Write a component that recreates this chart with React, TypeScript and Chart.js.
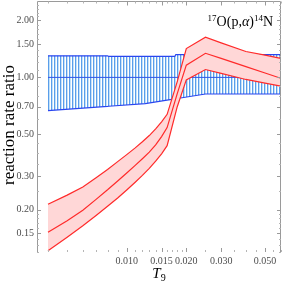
import React, { useEffect, useRef } from "react";
import { Chart, registerables } from "chart.js";

Chart.register(...registerables);

// ---- data ----
const redT9 = [0.004, 0.005, 0.006, 0.007, 0.008, 0.009, 0.010, 0.011, 0.012, 0.013, 0.014, 0.015, 0.016, 0.018, 0.020, 0.025, 0.030, 0.040, 0.050, 0.060];
const redUpper = [0.214, 0.239, 0.264, 0.295, 0.326, 0.359, 0.391, 0.423, 0.457, 0.493, 0.535, 0.583, 0.638, 0.95, 1.42, 1.63, 1.52, 1.37, 1.31, 1.26];
const redMedian = [0.152, 0.175, 0.199, 0.227, 0.255, 0.284, 0.313, 0.342, 0.372, 0.403, 0.440, 0.487, 0.543, 0.82, 1.16, 1.34, 1.26, 1.14, 1.055, 0.99];
const redLower = [0.1216, 0.1434, 0.1647, 0.1865, 0.2086, 0.2308, 0.2544, 0.2788, 0.304, 0.331, 0.361, 0.395, 0.436, 0.70, 0.97, 1.10, 1.05, 0.975, 0.932, 0.90];

const blueT9 = [0.004, 0.008, 0.0081, 0.0124, 0.0175, 0.0177, 0.025, 0.060];
const blueUpper = [1.30, 1.30, 1.29, 1.29, 1.29, 1.32, 1.32, 1.32];
const blueLower = [0.667, 0.703, 0.704, 0.727, 0.770, 0.771, 0.817, 0.817];
const blueCenterT9 = [0.004, 0.060];
const blueCenter = [1.0, 1.0];

const xTickValues = [0.01, 0.015, 0.02, 0.03, 0.05];
const yTickValues = [0.15, 0.2, 0.3, 0.5, 0.7, 1.0, 1.5, 2.0];
const xMinorValues = [0.004, 0.005, 0.006, 0.007, 0.008, 0.009, 0.011, 0.012, 0.013, 0.014, 0.016, 0.017, 0.018, 0.019, 0.025, 0.035, 0.04, 0.045, 0.055, 0.06];
const yMinorValues = [0.12, 0.13, 0.14, 0.16, 0.17, 0.18, 0.19, 0.25, 0.35, 0.4, 0.45, 0.6, 0.8, 0.9, 1.1, 1.2, 1.3, 1.4, 1.6, 1.7, 1.8, 1.9, 2.1, 2.2, 2.3, 2.4];

const yTitle = "reaction rate ratio";
const SERIF = '"Liberation Serif", "Times New Roman", "DejaVu Serif", serif';

const pts = (xs: number[], ys: number[]) => xs.map((x, i) => ({ x, y: ys[i] }));

const decorPlugin = {
  id: "decor",
  afterDraw(chart: any) {
    const { ctx, chartArea, scales } = chart;
    const { left, right, top, bottom } = chartArea;
    const x = scales.x;
    const y = scales.y;
    ctx.save();
    ctx.strokeStyle = "#9a9a9a";
    ctx.lineWidth = 1;
    ctx.beginPath();
    ctx.moveTo(left + 0.5, bottom);
    ctx.lineTo(left + 0.5, top - 0.5);
    ctx.lineTo(right - 0.5, top - 0.5);
    ctx.lineTo(right - 0.5, bottom);
    ctx.stroke();
    const tick = (v: number, len: number, axis: "x" | "y") => {
      if (axis === "x") {
        const px = Math.round(x.getPixelForValue(v)) + 0.5;
        ctx.moveTo(px, bottom);
        ctx.lineTo(px, bottom - len);
        ctx.moveTo(px, top - 0.5);
        ctx.lineTo(px, top - 0.5 + len);
      } else {
        const py = Math.round(y.getPixelForValue(v)) + 0.5;
        ctx.moveTo(left, py);
        ctx.lineTo(left + len, py);
        ctx.moveTo(right, py);
        ctx.lineTo(right - len, py);
      }
    };
    ctx.beginPath();
    xTickValues.forEach((v) => tick(v, 4, "x"));
    yTickValues.forEach((v) => tick(v, 4, "y"));
    ctx.stroke();
    ctx.strokeStyle = "#b5b5b5";
    ctx.beginPath();
    xMinorValues.forEach((v) => tick(v, 2, "x"));
    yMinorValues.forEach((v) => tick(v, 2, "y"));
    ctx.stroke();

    ctx.fillStyle = "#000";
    ctx.textBaseline = "alphabetic";
    const big = `14px ${SERIF}`;
    const small = `9px ${SERIF}`;
    const ital = `italic 14px ${SERIF}`;
    const parts: [string, string, number][] = [
      ["17", small, -5],
      ["O(p,", big, 0],
      ["\u03B1", ital, 0],
      [")", big, 0],
      ["14", small, -5],
      ["N", big, 0],
    ];
    let total = 0;
    parts.forEach(([t, f]) => {
      ctx.font = f;
      total += ctx.measureText(t).width;
    });
    let cx = 273 - total;
    const base = 26;
    parts.forEach(([t, f, dy]) => {
      ctx.font = f;
      ctx.fillText(t, cx, base + dy);
      cx += ctx.measureText(t).width;
    });

    const midX = (left + right) / 2;
    ctx.font = `italic 15px ${SERIF}`;
    const wT = ctx.measureText("T").width;
    ctx.font = `10px ${SERIF}`;
    const w9 = ctx.measureText("9").width;
    const sx = midX - (wT + w9) / 2;
    ctx.font = `italic 15px ${SERIF}`;
    ctx.fillText("T", sx, 278);
    ctx.font = `10px ${SERIF}`;
    ctx.fillText("9", sx + wT, 281);

    ctx.save();
    ctx.translate(14, (top + bottom) / 2 - 2);
    ctx.rotate(-Math.PI / 2);
    ctx.font = `17px ${SERIF}`;
    ctx.textAlign = "center";
    ctx.fillText(yTitle, 0, 0);
    ctx.restore();

    ctx.restore();
  },
};

export default function App() {
  const ref = useRef<HTMLCanvasElement | null>(null);

  useEffect(() => {
    const canvas = ref.current;
    if (!canvas) return;
    const ctx = canvas.getContext("2d")!;

    const pc = document.createElement("canvas");
    pc.width = 3;
    pc.height = 1;
    const p = pc.getContext("2d")!;
    p.fillStyle = "#ffffff";
    p.fillRect(0, 0, 3, 1);
    p.fillStyle = "#5a9eea";
    p.fillRect(0, 0, 1, 1);
    p.fillStyle = "#c3e1f8";
    p.fillRect(1, 0, 1, 1);
    const hatch = ctx.createPattern(pc, "repeat")!;

    const tickFont = { family: SERIF, size: 10 };

    const chart = new Chart(ctx, {
      type: "line",
      data: {
        datasets: [
          { label: "upper", data: pts(redT9, redUpper), borderColor: "#ff2a2a", borderWidth: 1.2, pointRadius: 0, fill: false, order: 0 },
          { label: "median", data: pts(redT9, redMedian), borderColor: "#ff2a2a", borderWidth: 1.2, pointRadius: 0, fill: false, order: 1 },
          { label: "lower", data: pts(redT9, redLower), borderColor: "#ff2a2a", borderWidth: 1.2, pointRadius: 0, fill: 0, backgroundColor: "#ffd7d7", order: 2 },
          { label: "ref center", data: pts(blueCenterT9, blueCenter), borderColor: "#2f55e6", borderWidth: 1, pointRadius: 0, fill: false, order: 3 },
          { label: "ref upper", data: pts(blueT9, blueUpper), borderColor: "#2a46f0", borderWidth: 1.2, pointRadius: 0, fill: false, order: 4 },
          { label: "ref lower", data: pts(blueT9, blueLower), borderColor: "#2a46f0", borderWidth: 1.2, pointRadius: 0, fill: 4, backgroundColor: hatch as any, order: 5 },
        ],
      },
      options: {
        animation: false,
        responsive: true,
        maintainAspectRatio: false,
        parsing: false as any,
        layout: { padding: { top: 2, right: 8, left: 0, bottom: 0 } },
        plugins: { legend: { display: false }, tooltip: { enabled: false } },
        elements: { line: { tension: 0 } },
        scales: {
          x: {
            type: "logarithmic",
            min: 0.00352,
            max: 0.0602,
            afterBuildTicks: (s: any) => {
              s.ticks = xTickValues.map((v) => ({ value: v }));
            },
            afterFit: (s: any) => {
              s.height = 32;
              s.paddingLeft = 0;
              s.paddingRight = 0;
            },
            ticks: {
              autoSkip: false,
              maxRotation: 0,
              minRotation: 0,
              padding: 3,
              color: "#4d4d4d",
              font: tickFont,
              callback: (v: any) => Number(v).toFixed(3),
            },
            grid: { display: false, drawTicks: false },
            border: { display: false },
          },
          y: {
            type: "logarithmic",
            min: 0.1197,
            max: 2.5,
            afterBuildTicks: (s: any) => {
              s.ticks = yTickValues.map((v) => ({ value: v }));
            },
            afterFit: (s: any) => {
              s.width = 37;
              s.paddingTop = 0;
              s.paddingBottom = 0;
            },
            ticks: {
              autoSkip: false,
              padding: 3,
              color: "#4d4d4d",
              font: tickFont,
              callback: (v: any) => Number(v).toFixed(2),
            },
            grid: { display: false, drawTicks: false },
            border: { display: false },
          },
        },
      },
      plugins: [decorPlugin],
    });
    return () => chart.destroy();
  }, []);

  return (
    <div style={{ position: "absolute", left: 0, top: 0, width: 289, height: 284 }}>
      <canvas ref={ref} />
    </div>
  );
}
